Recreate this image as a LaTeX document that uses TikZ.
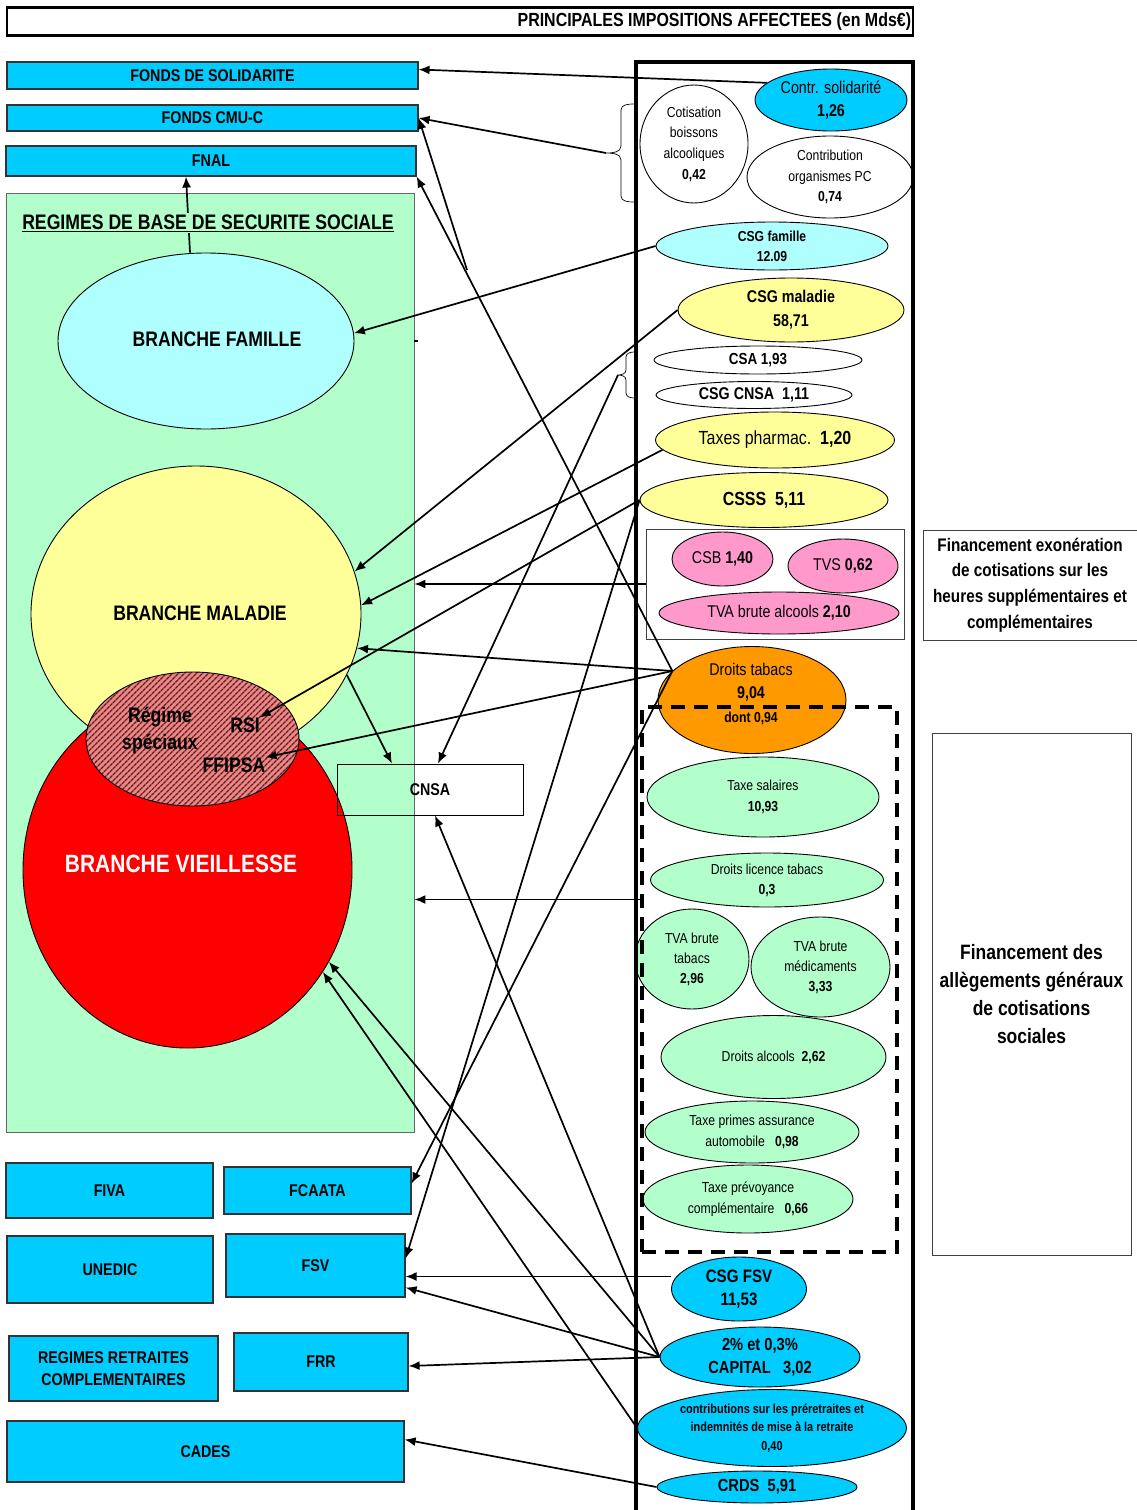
\documentclass[tikz,border=0pt]{standalone}
\usepackage{fontspec}
\setmainfont{Liberation Sans}[FakeStretch=0.84]
\usetikzlibrary{shapes.geometric,arrows.meta,patterns.meta}

\definecolor{cyanbox}{HTML}{00CCFF}
\definecolor{famcyan}{HTML}{B0FFFF}
\definecolor{malyellow}{HTML}{FFFF99}
\definecolor{regreen}{HTML}{B3FFCC}
\definecolor{taxpink}{HTML}{FF99CC}
\definecolor{taborange}{HTML}{FF9900}
\definecolor{hatchpink}{HTML}{F08585}
\definecolor{hatchline}{HTML}{5A2222}

\newcommand{\tsz}[2]{\fontsize{#1}{#2}\selectfont}

\begin{document}
\begin{tikzpicture}[x=1pt,y=-1pt,>={Latex[length=11pt,width=9pt]},
		fund/.style={draw=black!80,line width=1.2pt,fill=cyanbox,inner sep=0pt,align=center,font=\bfseries\tsz{17}{22}},
		tax/.style={ellipse,draw,line width=0.9pt,inner sep=0pt,align=center},
		branch/.style={ellipse,draw,line width=0.9pt,inner sep=0pt},
		note/.style={draw=black!75,line width=0.9pt,inner sep=0pt,align=center},
		link/.style={->,line width=1.7pt}]
		\useasboundingbox (0,0) rectangle (1137,1510);

		\node[draw,line width=2.5pt,minimum width=906,minimum height=28,inner sep=0pt] (titlebar) at (460,21.5) {};
		\node[anchor=east,inner sep=0pt,font=\bfseries\tsz{19}{22}] (titletxt) at ([xshift=-3pt]titlebar.east) {PRINCIPALES IMPOSITIONS AFFECTEES (en Mds€)};

		% organismes (left)
		\node[draw=black!60,line width=0.8pt,fill=regreen,minimum width=408,minimum height=939,inner sep=0pt] (regimes) at (210,662.5) {};
		\foreach \nm/\cx/\cy/\w/\h/\txt in {fsol/212.5/75.5/411/27/{FONDS DE SOLIDARITE},cmu/212.5/118/411/26/{FONDS CMU-C},fnal/211/161/410/30/FNAL,
			fiva/109.5/1190.5/207/55/FIVA,fcaata/317.5/1190.5/187/47/FCAATA,unedic/110/1269.5/206/67/UNEDIC,fsv/315.5/1265.5/179/63/FSV,
			rrc/113.5/1368.5/209/65/{REGIMES RETRAITES\\COMPLEMENTAIRES},frr/321/1362/174/58/FRR,cades/205.5/1451.5/397/61/CADES}
			{\node[fund,minimum width=\w,minimum height=\h] (\nm) at (\cx,\cy) {\txt};}

		\node[branch,fill=famcyan,minimum width=296,minimum height=176] (famille) at (206,341) {};
		\node[branch,fill=malyellow,minimum width=330,minimum height=296] (maladie) at (196,614) {};
		\node[branch,fill=red,minimum width=329,minimum height=356] (vieillesse) at (187.5,870) {};
		\node[branch,preaction={fill=hatchpink},pattern={Lines[angle=45,distance=4pt,line width=1.4pt]},pattern color=hatchline,minimum width=213,minimum height=134] (speciaux) at (192.5,739) {};
		\node[font=\bfseries\tsz{21}{25}] (famtxt) at (217,339) {BRANCHE FAMILLE};
		\node[font=\bfseries\tsz{21}{25}] (maltxt) at (200,613) {BRANCHE MALADIE};
		\node[font=\bfseries\tsz{25}{28},text=white] (vieiltxt) at (181,864) {BRANCHE VIEILLESSE};
		\node[font=\bfseries\tsz{21}{27},align=center,inner sep=0pt] (regtxt) at (160,730.5) {Régime\\spéciaux};
		\node[font=\bfseries\tsz{21}{25},inner sep=0pt] (rsi) at (245,725) {RSI};
		\node[font=\bfseries\tsz{21}{25},inner sep=0pt] (ffipsa) at (234,765) {FFIPSA};
		\node[draw,line width=0.8pt,minimum width=186,minimum height=51,inner sep=0pt,font=\bfseries\tsz{17}{20}] (cnsa) at (430,789.5) {CNSA};
		\draw[line width=1.5pt] (regimes.east |- famille.east) -- ++(4,0);

		% impositions (right)
		\node[tax,fill=cyanbox,minimum width=152,minimum height=62,font=\tsz{17}{23}] (csol) at (831,100) {Contr. solidarité\\\textbf{1,26}};
		\node[tax,minimum width=108,minimum height=118,font=\tsz{14.5}{20.7}] (cotis) at (694,144) {Cotisation\\boissons\\alcooliques\\\textbf{0,42}};
		\node[tax,minimum width=166,minimum height=82,font=\tsz{14.5}{20.5}] (contpc) at (830,177) {Contribution\\organismes PC\\\textbf{0,74}};
		\node[tax,fill=famcyan,minimum width=232,minimum height=48,font=\bfseries\tsz{14.5}{20}] (csgfam) at (772,246) {CSG famille\\12.09};
		\node[tax,fill=malyellow,minimum width=226,minimum height=64,font=\bfseries\tsz{17}{24}] (csgmal) at (791,310) {CSG maladie\\58,71};
		\node[tax,minimum width=208,minimum height=28,font=\bfseries\tsz{16}{20}] (csa) at (758,360) {CSA 1,93};
		\node[tax,minimum width=196,minimum height=27,font=\bfseries\tsz{17}{20}] (csgcnsa) at (754,395) {CSG CNSA\ \ 1,11};
		\node[tax,fill=malyellow,minimum width=239,minimum height=56,font=\tsz{19}{22}] (pharma) at (775,440) {Taxes pharmac.\ \ \textbf{1,20}};
		\node[tax,fill=malyellow,minimum width=248,minimum height=55,font=\bfseries\tsz{19}{22}] (csss) at (764,500) {CSSS\ \ 5,11};
		\node[note,minimum width=258,minimum height=110] (pinkbox) at (775,584) {};
		\node[tax,fill=taxpink,minimum width=101,minimum height=54,font=\tsz{17}{20}] (csb) at (722.5,559) {CSB \textbf{1,40}};
		\node[tax,fill=taxpink,minimum width=110,minimum height=54,font=\tsz{17}{20}] (tvs) at (843,566) {TVS \textbf{0,62}};
		\node[tax,fill=taxpink,minimum width=240,minimum height=42,font=\tsz{17}{20}] (tvaalc) at (779,613) {TVA brute alcools \textbf{2,10}};
		\node[note,minimum width=214,minimum height=110,font=\bfseries\tsz{18.2}{25.7}] (finexo) at (1030,585) {Financement exonération\\de cotisations sur les\\heures supplémentaires et\\complémentaires};
		\node[tax,fill=taborange,minimum width=188,minimum height=107] (tabacs) at (752,700) {};
		\node[align=center,inner sep=0pt,font=\tsz{17}{23.5}] (tabtxt) at (751,693.5) {Droits tabacs\\\textbf{9,04}\\\textbf{\tsz{14.5}{23.5}dont 0,94}};
		\node[tax,fill=regreen,minimum width=232,minimum height=80,font=\tsz{14.5}{21}] (taxsal) at (763,797) {Taxe salaires\\\textbf{10,93}};
		\node[tax,fill=regreen,minimum width=233,minimum height=54,font=\tsz{14.5}{20}] (licence) at (767,880) {Droits licence tabacs\\\textbf{0,3}};
		\node[tax,fill=regreen,minimum width=114,minimum height=100,font=\tsz{14.5}{20}] (tvatab) at (692,959) {TVA brute\\tabacs\\\textbf{2,96}};
		\node[tax,fill=regreen,minimum width=139,minimum height=100,font=\tsz{14.5}{20}] (tvamed) at (820.5,967) {TVA brute\\médicaments\\\textbf{3,33}};
		\node[tax,fill=regreen,minimum width=225,minimum height=83,font=\tsz{14.5}{20}] (alcools) at (773.5,1057) {Droits alcools\ \ \textbf{2,62}};
		\node[tax,fill=regreen,minimum width=214,minimum height=62,font=\tsz{14.5}{20.5}] (primes) at (752,1132) {Taxe primes assurance\\automobile\ \ \ \textbf{0,98}};
		\node[tax,fill=regreen,minimum width=210,minimum height=68,font=\tsz{14.5}{21}] (prevoy) at (748,1199) {Taxe prévoyance\\complémentaire\ \ \ \textbf{0,66}};
		\node[note,minimum width=199,minimum height=522,font=\bfseries\tsz{20.8}{28}] (finalleg) at (1031.5,994) {Financement des\\allègements généraux\\de cotisations\\sociales};
		\node[tax,fill=cyanbox,minimum width=135,minimum height=64,font=\bfseries\tsz{18}{23}] (csgfsv) at (739,1289) {CSG FSV\\11,53};
		\node[tax,fill=cyanbox,minimum width=200,minimum height=60,font=\bfseries\tsz{17.5}{23}] (capital) at (760,1357) {2\% et 0,3\%\\CAPITAL\ \ \ 3,02};
		\node[tax,fill=cyanbox,minimum width=269,minimum height=77,font=\bfseries\tsz{13}{18.5}] (preret) at (772,1428) {contributions sur les préretraites et\\indemnités de mise à la retraite\\0,40};
		\node[tax,fill=cyanbox,minimum width=200,minimum height=32,font=\bfseries\tsz{17.5}{20}] (crds) at (757,1487) {CRDS\ \ 5,91};
		\node[draw,line width=3.5pt,dash pattern=on 14pt off 9pt,minimum width=255,minimum height=545,inner sep=0pt] (dashbox) at (769.5,979.5) {};

		\draw[line width=4pt] (636,1516) -- (636,62) -- (913,62) -- (913,1516);
		\draw[line width=0.7pt] (634,104) to[out=180,in=90] (621,110) -- (621,146) to[out=270,in=0] (606,153) to[out=0,in=90] (621,160) -- (621,196) to[out=270,in=180] (634,202);
		\draw[line width=0.7pt] (634,352) to[out=180,in=90] (626,357) -- (626,370) to[out=270,in=0] (618,375) to[out=0,in=90] (626,380) -- (626,393) to[out=270,in=180] (634,398);
		\coordinate (brtip1) at (606,153);
		\coordinate (brtip2) at (618,375);
		\coordinate (cmustub) at (467,270);
		\coordinate (dashout) at ([yshift=80pt]dashbox.west);
		\coordinate (fsvin) at ([yshift=-11pt]fsv.east);

		% affectations
		\draw[link] (csol.165) -- ([yshift=6pt]fsol.east);
		\draw[link] (brtip1) -- (cmu.east);
		\draw[link] (cmustub) -- (cmu.east);
		\draw[link] (tabacs.160) -- (fnal.south east);
		\draw[link] ([xshift=-16pt]famille.north) -- ([xshift=-25pt]fnal.south);
		\draw[link] (csgfam.west) -- (famille.3);
		\draw[link] (csgmal.west) -- (maladie.15);
		\draw[link] (brtip2) -- ([xshift=8pt]cnsa.north);
		\draw[link] (pharma.185) -- (maladie.3);
		\draw[link] (csss.west) -- (rsi.north east);
		\draw[link] (csss.west) -- ([yshift=7pt]fsv.east);
		\draw[link] (pinkbox.west) -- (pinkbox.west -| regimes.east);
		\draw[link] (tabacs.160) -- (maladie.-12);
		\draw[link] (tabacs.160) -- (ffipsa.north east);
		\draw[link] (tabacs.160) -- ([yshift=7pt]fcaata.east);
		\draw[link] (maladie.-22) -- ([xshift=-38pt]cnsa.north);
		\draw[link] (dashout) -- (dashout -| regimes.east);
		\draw[link] (fsvin -| csgfsv.west) -- (fsvin);
		\draw[link] (capital.west) -- ([yshift=-22pt]fsv.east);
		\draw[link] (capital.west) -- ([yshift=-4pt]frr.east);
		\draw[link] (capital.west) -- ([xshift=5pt]cnsa.south);
		\draw[link] (capital.west) -- (vieillesse.-33);
		\draw[link] (preret.west) -- (vieillesse.-37);
		\draw[link] (crds.west) -- ([yshift=12pt]cades.east);

		\node[fill=regreen,inner sep=1.5pt,font=\bfseries\tsz{21}{25}] (regtitle) at (208,223) {\underline{REGIMES DE BASE DE SECURITE SOCIALE}};
	\end{tikzpicture}
\end{document}
